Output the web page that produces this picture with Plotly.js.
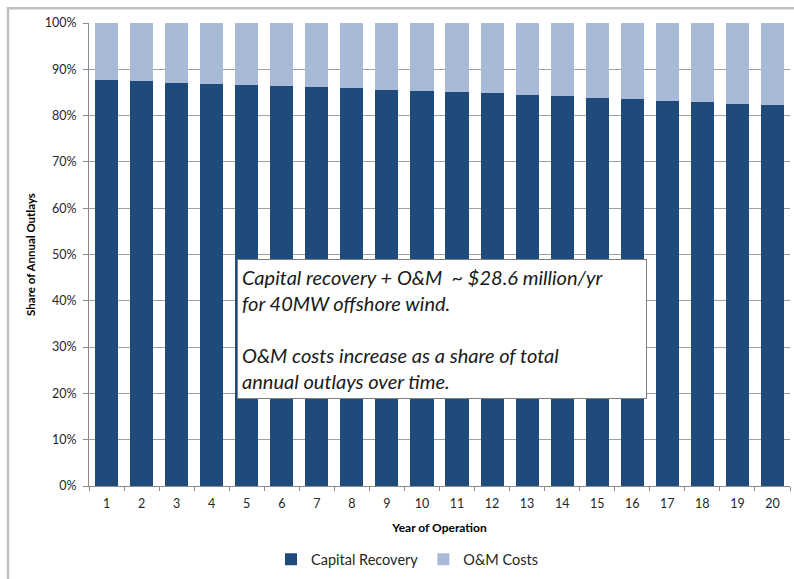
<!DOCTYPE html>
<html>
<head>
<meta charset="utf-8">
<script src="https://cdn.plot.ly/plotly-3.0.1.min.js"></script>
<style>html,body{margin:0;padding:0;background:#fff;}#chart{width:794px;height:579px;}</style>
</head>
<body>
<div id="chart"></div>
<script>
const years = ['1','2','3','4','5','6','7','8','9','10','11','12','13','14','15','16','17','18','19','20'];
const capitalRecovery = [0.876,0.874,0.870,0.869,0.866,0.864,0.861,0.859,0.856,0.853,0.851,0.848,0.845,0.842,0.838,0.835,0.832,0.829,0.826,0.823];
const omCosts = [0.124,0.126,0.130,0.131,0.134,0.136,0.139,0.141,0.144,0.147,0.149,0.152,0.155,0.158,0.162,0.165,0.168,0.171,0.174,0.177];
const yTickVals = [0,0.1,0.2,0.3,0.4,0.5,0.6,0.7,0.8,0.9,1.0];
const noteText = 'Capital recovery + O&M  ~ $28.6 million/yr<br>for 40MW offshore wind.<br><br>O&M costs increase as a share of total<br>annual outlays over time.';

const FONT = 'Lato, "Open Sans", sans-serif';
const L = 89, R = 790, T = 23, B = 490;
const px2x = p => (p - L) / (R - L);
const px2y = p => (B - p) / (B - T);

const traces = [
  {type:'bar', name:'Capital Recovery', x: years, y: capitalRecovery,
   marker:{color:'#1F4A7C'}, hoverinfo:'skip'},
  {type:'bar', name:'O&M Costs', x: years, y: omCosts,
   marker:{color:'#A9BAD9'}, hoverinfo:'skip'}
];

const layout = {
  width:794, height:579,
  margin:{l:L, r:794-R, t:T, b:579-B, pad:0},
  paper_bgcolor:'#fff', plot_bgcolor:'#fff',
  barmode:'stack', bargap:0.34,
  font:{family:FONT, color:'#262626', size:12},
  showlegend:true,
  legend:{orientation:'h', x:px2x(407), xanchor:'center', y:px2y(564), yanchor:'middle',
          font:{size:14.5, color:'#262626'}, traceorder:'normal', itemwidth:30, tracegroupgap:0},
  xaxis:{type:'category', tickson:'boundaries', ticks:'outside', ticklen:4, tickcolor:'#8c8c8c',
         showgrid:false, showline:true, linecolor:'#8c8c8c', linewidth:1,
         tickfont:{size:12.5, color:'#262626'}, ticklabelstandoff:6,
         title:{text:'<b>Year of Operation</b>', font:{size:12, color:'#000'}, standoff:13},
         fixedrange:true},
  yaxis:{range:[0,1], tickvals:yTickVals, tickformat:'.0%', ticks:'outside', ticklen:5,
         tickcolor:'#8c8c8c', showgrid:true, gridcolor:'#a0a0a0', gridwidth:1,
         showline:true, linecolor:'#8c8c8c', linewidth:1, zeroline:false,
         tickfont:{size:12.5, color:'#262626'}, ticklabelstandoff:4,
         title:{text:'<b>Share of Annual Outlays</b>', font:{size:11.5, color:'#000'}, standoff:6},
         fixedrange:true},
  shapes:[
    {type:'rect', xref:'paper', yref:'paper', x0:px2x(8), x1:px2x(820), y0:px2y(8), y1:px2y(620),
     line:{color:'#c0c0c0', width:2.5}, fillcolor:'rgba(0,0,0,0)', layer:'below'}
  ],
  annotations:[
    {xref:'paper', yref:'paper', x:px2x(237), y:px2y(261), xanchor:'left', yanchor:'top',
     text:'<i>'+noteText+'</i>', showarrow:false, align:'left', valign:'middle',
     width:400, height:130, borderpad:4, bordercolor:'#7f7f7f', borderwidth:1, bgcolor:'#fff',
     font:{size:20, color:'#1a1a1a', family:FONT}}
  ]
};

Plotly.newPlot('chart', traces, layout, {displayModeBar:false, staticPlot:true});
</script>
</body>
</html>
